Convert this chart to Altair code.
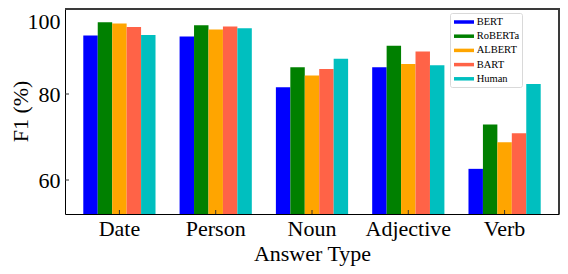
import altair as alt
import pandas as pd

categories = ["Date", "Person", "Noun", "Adjective", "Verb"]
models = ["BERT", "RoBERTa", "ALBERT", "BART", "Human"]
colors = ["#0000ff", "#008000", "#ffa500", "#ff6347", "#00bfbf"]

bert = [93.6, 93.4, 81.6, 86.2, 62.6]
roberta = [96.7, 96.0, 86.2, 91.2, 72.9]
albert = [96.4, 95.0, 84.3, 87.0, 68.8]
bart = [95.6, 95.7, 85.8, 89.9, 70.9]
human = [93.7, 95.3, 88.2, 86.7, 82.3]

y_ticks = [60, 80, 100]

series = {"BERT": bert, "RoBERTa": roberta, "ALBERT": albert, "BART": bart, "Human": human}
rows = []
for m in models:
    for c, v in zip(categories, series[m]):
        rows.append({"cat": c, "model": m, "f1": v})
df = pd.DataFrame(rows)

W, H = 494, 206
Y_MIN = 52.1
FONT = "Liberation Serif"

xscale = alt.Scale(domain=categories, paddingInner=0.25, paddingOuter=0.19)
yscale = alt.Scale(domain=[Y_MIN, 100], zero=False, nice=False)

legend_path = "M-1.43,-0.25L1.43,-0.25L1.43,0.25L-1.43,0.25Z"

bars = alt.Chart(df).mark_bar().encode(
    x=alt.X("cat:N", scale=xscale, sort=categories,
            axis=alt.Axis(title="Answer Type", labelAngle=0, ticks=False, tickSize=0,
                          labelPadding=4, domainColor="#000", domainWidth=1,
                          labelFont=FONT, labelFontSize=22, labelColor="#000",
                          titleFont=FONT, titleFontSize=22, titleFontWeight="normal",
                          titleColor="#000", titleY=29.5)),
    xOffset=alt.XOffset("model:N", sort=models,
                        scale=alt.Scale(domain=models, paddingInner=0, paddingOuter=0)),
    y=alt.Y("f1:Q", scale=yscale,
            axis=alt.Axis(title="F1 (%)", values=y_ticks, ticks=False, tickSize=0,
                          labelPadding=5, domainColor="#000", domainWidth=1, grid=False,
                          labelFont=FONT, labelFontSize=22, labelColor="#000",
                          labelOffset={"condition": {"test": "datum.value === 100", "value": 13}, "value": 0},
                          titleFont=FONT, titleFontSize=22, titleFontWeight="normal",
                          titleColor="#000", titleX=-45, titleBaseline="middle")),
    y2=alt.datum(Y_MIN),
    color=alt.Color("model:N", sort=models,
                    scale=alt.Scale(domain=models, range=colors),
                    legend=alt.Legend(title=None, orient="none", legendX=385, legendY=5,
                                      padding=2, strokeColor="#d9d9d9", fillColor="#ffffff",
                                      cornerRadius=2, symbolType=legend_path, symbolSize=196,
                                      symbolStrokeWidth=0, symbolOffset=5, labelOffset=5.7,
                                      rowPadding=1.2, labelFont=FONT, labelFontSize=10.5,
                                      labelColor="#000")),
)

ytick_df = pd.DataFrame({"v": y_ticks})
yticks = alt.Chart(ytick_df).mark_rule(color="#333", strokeWidth=1).encode(
    y=alt.Y("v:Q", scale=yscale), x=alt.value(0), x2=alt.value(4)
)

xtick_df = pd.DataFrame({"cat": categories})
xticks = alt.Chart(xtick_df).mark_rule(color="#333", strokeWidth=1).encode(
    x=alt.X("cat:N", scale=xscale, sort=categories), y=alt.value(H), y2=alt.value(H - 4)
)

top_spine = alt.Chart(ytick_df).mark_rule(color="#3a3a3a", strokeWidth=2).encode(
    x=alt.value(0), x2=alt.value(W + 1), y=alt.value(1)
)
right_spine = alt.Chart(ytick_df).mark_rule(color="#3a3a3a", strokeWidth=2).encode(
    x=alt.value(W), y=alt.value(0), y2=alt.value(H)
)

chart = alt.layer(bars, yticks, xticks, top_spine, right_spine).properties(
    width=W, height=H,
    autosize=alt.AutoSizeParams(type="none"),
    padding={"left": 57, "top": 0, "right": 1, "bottom": 52},
).configure_view(stroke=None).configure_axis(grid=False)

chart.save("out.html", embed_options={"renderer": "svg", "actions": False})
